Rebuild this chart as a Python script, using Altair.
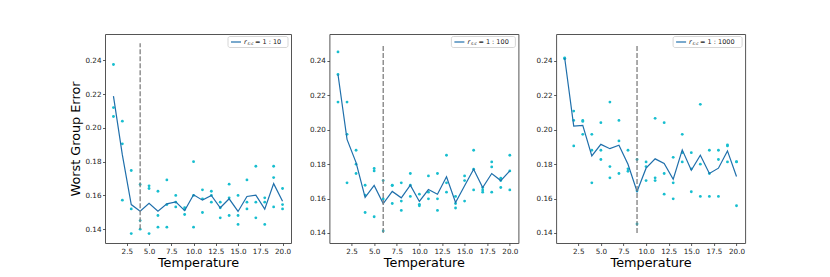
import altair as alt
import pandas as pd

temps = list(range(1, 21))

pts1 = [[0.2376, 0.2121, 0.2068], [0.2040, 0.1906, 0.1572], [0.1748, 0.1520, 0.1374],
        [0.1665, 0.1451, 0.1400], [0.1657, 0.1641, 0.1374], [0.1625, 0.1481, 0.1412],
        [0.1692, 0.1546, 0.1412], [0.1600, 0.1560, 0.1532], [0.1527, 0.1517, 0.1487],
        [0.1800, 0.1600, 0.1412], [0.1633, 0.1580, 0.1499], [0.1625, 0.1600, 0.1560],
        [0.1560, 0.1527, 0.1467], [0.1667, 0.1586, 0.1481], [0.1600, 0.1481, 0.1428],
        [0.1692, 0.1560, 0.1520], [0.1773, 0.1560, 0.1467], [0.1586, 0.1560, 0.1428],
        [0.1773, 0.1706, 0.1532], [0.1641, 0.1546, 0.1520]]
line1 = [0.2189, 0.1840, 0.1546, 0.1507, 0.1554, 0.1507, 0.1550, 0.1562, 0.1510, 0.1604,
         0.1572, 0.1600, 0.1527, 0.1580, 0.1505, 0.1594, 0.1602, 0.1519, 0.1670, 0.1566]

pts2 = [[0.2450, 0.2319, 0.2159], [0.2159, 0.1972, 0.1691], [0.1880, 0.1799, 0.1745],
        [0.1677, 0.1620, 0.1519], [0.1774, 0.1760, 0.1494], [0.1704, 0.1597, 0.1412],
        [0.1677, 0.1675, 0.1571], [0.1691, 0.1585, 0.1531], [0.1745, 0.1677, 0.1612],
        [0.1625, 0.1566, 0.1558], [0.1731, 0.1637, 0.1598], [0.1745, 0.1598, 0.1531],
        [0.1851, 0.1691, 0.1637], [0.1612, 0.1571, 0.1545], [0.1731, 0.1704, 0.1585],
        [0.1880, 0.1770, 0.1650], [0.1664, 0.1650, 0.1637], [0.1812, 0.1783, 0.1637],
        [0.1718, 0.1704, 0.1664], [0.1851, 0.1760, 0.1650]]
line2 = [0.2319, 0.1943, 0.1808, 0.1606, 0.1676, 0.1571, 0.1641, 0.1604, 0.1677, 0.1583,
         0.1652, 0.1625, 0.1726, 0.1577, 0.1674, 0.1770, 0.1664, 0.1745, 0.1704, 0.1760]

pts3 = [[0.2415, 0.2413, 0.2410], [0.2107, 0.2053, 0.1905], [0.2053, 0.2047, 0.1972],
        [0.1972, 0.1880, 0.1691], [0.2040, 0.1880, 0.1826], [0.2159, 0.1785, 0.1720],
        [0.2053, 0.1934, 0.1745], [0.1880, 0.1772, 0.1758], [0.1826, 0.1645, 0.1452],
        [0.1812, 0.1785, 0.1704], [0.2065, 0.1720, 0.1704], [0.2040, 0.1745, 0.1625],
        [0.1839, 0.1691, 0.1598], [0.1972, 0.1866, 0.1812], [0.1866, 0.1772, 0.1639],
        [0.2146, 0.1799, 0.1612], [0.1880, 0.1745, 0.1612], [0.1880, 0.1826, 0.1612],
        [0.1911, 0.1905, 0.1812], [0.1814, 0.1812, 0.1558]]
line3 = [0.2415, 0.2020, 0.2024, 0.1847, 0.1914, 0.1889, 0.1909, 0.1799, 0.1641, 0.1776,
         0.1830, 0.1803, 0.1712, 0.1882, 0.1764, 0.1851, 0.1745, 0.1776, 0.1876, 0.1728]

vline_x = [4, 6, 9]
vline_y = [(0.14, 0.2502), (0.14, 0.2488), (0.14, 0.2488)]
ratios = ["1 : 10", "1 : 100", "1 : 1000"]
y_domains = [(0.1318, 0.2557), (0.1342, 0.2554), (0.1342, 0.2554)]
x_domain = (0.05, 20.95)
x_ticks = [2.5, 5.0, 7.5, 10.0, 12.5, 15.0, 17.5, 20.0]
y_ticks = [0.14, 0.16, 0.18, 0.20, 0.22, 0.24]

widths = [186, 189, 189]
height = 209
legend_w = [60, 64, 69]

FONT = "DejaVu Sans"
PT_COLOR = "#17becf"
LINE_COLOR = "#1f6fab"


def panel(i, pts, line, first):
    w = widths[i]
    pdf = pd.DataFrame([{"T": t, "err": v} for t, vals in zip(temps, pts) for v in vals])
    ldf = pd.DataFrame({"T": temps, "err": line})
    vdf = pd.DataFrame({"T": [vline_x[i]], "y0": [vline_y[i][0]], "y1": [vline_y[i][1]]})
    xs = alt.Scale(domain=list(x_domain), nice=False, zero=False)
    ys = alt.Scale(domain=list(y_domains[i]), nice=False, zero=False)
    xax = alt.Axis(values=x_ticks, format=".1f", title="Temperature", grid=False,
                   labelOverlap=False, labelFlush=False)
    yax = alt.Axis(values=y_ticks, format=".2f", grid=False, labelOverlap=False,
                   labelFlush=False, title="Worst Group Error" if first else None)
    points = alt.Chart(pdf).mark_circle(size=8, color=PT_COLOR, opacity=1).encode(
        x=alt.X("T:Q", scale=xs, axis=xax),
        y=alt.Y("err:Q", scale=ys, axis=yax),
    )
    ln = alt.Chart(ldf).mark_line(color=LINE_COLOR, strokeWidth=1.2).encode(
        x=alt.X("T:Q", scale=xs, axis=xax), y=alt.Y("err:Q", scale=ys, axis=yax))
    vl = alt.Chart(vdf).mark_rule(color="#7f7f7f", strokeWidth=1.3, strokeDash=[5, 2]).encode(
        x=alt.X("T:Q", scale=xs, axis=xax), y=alt.Y("y0:Q", scale=ys, axis=yax), y2="y1:Q")
    lg = pd.DataFrame({"r": ["r"], "sub": ["s:c"], "rest": ["= " + ratios[i]]})
    x0 = w - 3 - legend_w[i]
    x1 = w - 3
    y0, y1 = 2.5, 13.5
    ym = (y0 + y1) / 2
    box = alt.Chart(lg).mark_rect(fill="white", fillOpacity=0.85, stroke="#cccccc",
                                  strokeWidth=0.8, cornerRadius=2).encode(
        x=alt.value(x0), x2=alt.value(x1), y=alt.value(y0), y2=alt.value(y1))
    samp = alt.Chart(lg).mark_rule(color=LINE_COLOR, strokeWidth=1.2).encode(
        x=alt.value(x0 + 3), x2=alt.value(x0 + 13), y=alt.value(ym))
    t_r = alt.Chart(lg).mark_text(font=FONT, fontSize=6.5, fontStyle="italic", align="left",
                                  baseline="middle", color="#222").encode(
        x=alt.value(x0 + 16), y=alt.value(ym - 0.5), text="r:N")
    t_s = alt.Chart(lg).mark_text(font=FONT, fontSize=4.3, fontStyle="italic", align="left",
                                  baseline="middle", color="#222").encode(
        x=alt.value(x0 + 19.5), y=alt.value(ym + 1.5), text="sub:N")
    t_rest = alt.Chart(lg).mark_text(font=FONT, fontSize=6.5, align="left",
                                     baseline="middle", color="#222").encode(
        x=alt.value(x0 + 27), y=alt.value(ym - 0.3), text="rest:N")
    return alt.layer(points, ln, vl, box, samp, t_r, t_s, t_rest).properties(
        width=w, height=height)


p1 = panel(0, pts1, line1, True)
p2 = panel(1, pts2, line2, False)
p3 = panel(2, pts3, line3, False)

chart = alt.hconcat(p1, alt.hconcat(p2, p3, spacing=15.7), spacing=16.4).properties(
    padding={"left": 61, "top": 25, "right": 5, "bottom": 0}
).configure_view(
    stroke="#555555", strokeWidth=1
).configure_axis(
    domain=False, tickSize=2.5, tickColor="#333", tickWidth=0.8,
    labelFont=FONT, labelFontSize=7.2, labelColor="#222", labelPadding=1.5,
    labelOverlap=False,
    titleFont=FONT, titleFontSize=12.8, titleFontWeight="normal", titleColor="#000",
    titlePadding=2,
)

chart.save("out.html", embed_options={"renderer": "svg", "actions": False})
